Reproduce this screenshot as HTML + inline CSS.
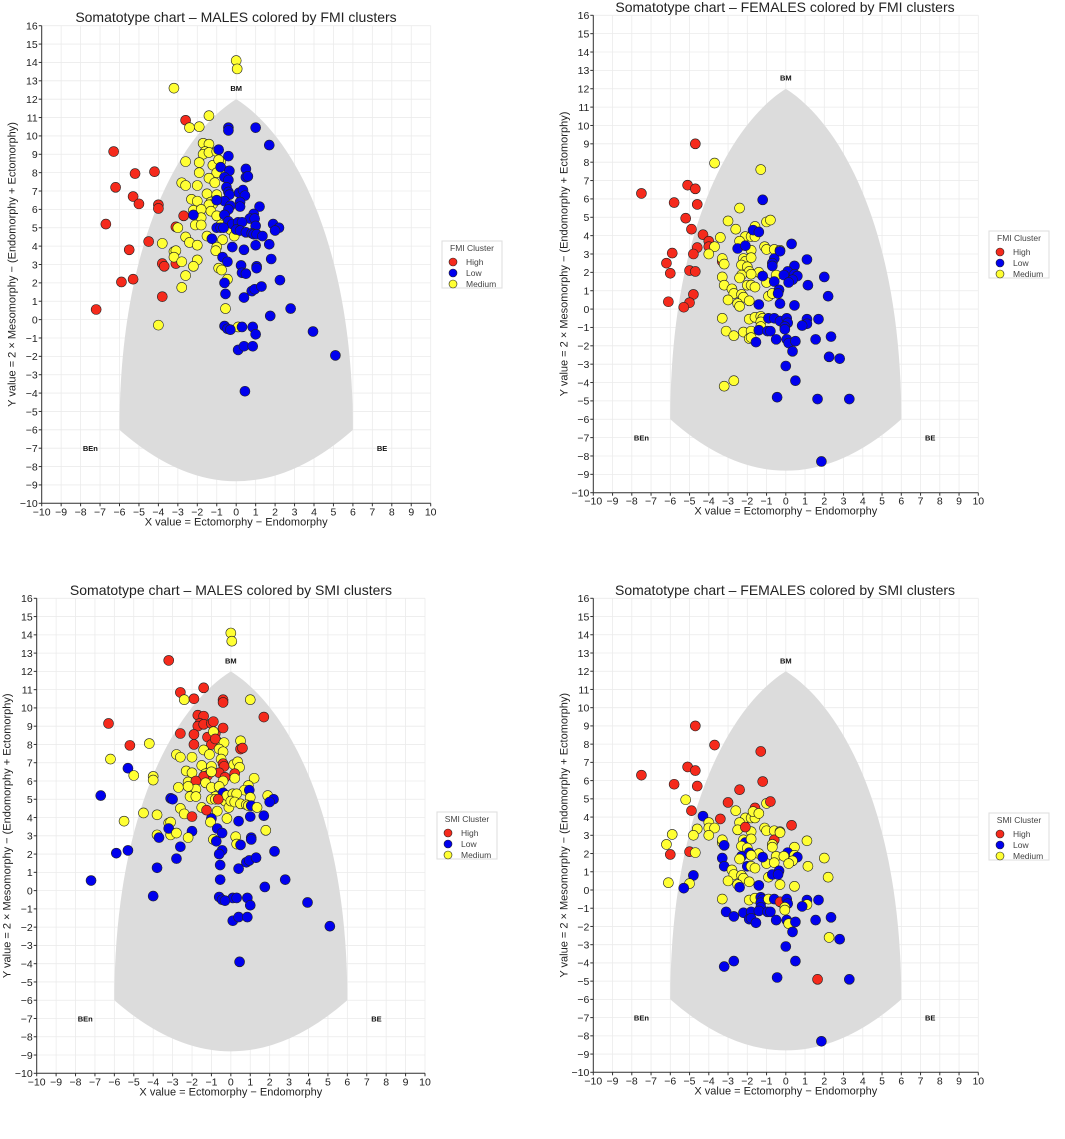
<!DOCTYPE html>
<html><head><meta charset="utf-8"><style>
body{margin:0;background:#fff;}
svg{display:block;font-family:"Liberation Sans","DejaVu Sans",sans-serif;}
</style></head><body>
<svg id="root" width="1065" height="1139" viewBox="0 0 1065 1139" xmlns="http://www.w3.org/2000/svg"></svg>
<script>
// Tick values
const xTicks=[-10,-9,-8,-7,-6,-5,-4,-3,-2,-1,0,1,2,3,4,5,6,7,8,9,10];
const yTicks=[-10,-9,-8,-7,-6,-5,-4,-3,-2,-1,0,1,2,3,4,5,6,7,8,9,10,11,12,13,14,15,16];
const clusterNames=["High","Low","Medium"];
// Males: x values, y values, FMI cluster, SMI cluster
const maleX=[-7.2,-6.7,-6.3,-6.2,-5.9,-5.5,-5.3,-5.3,-5.2,-5.0,-4.5,-4.2,-4.0,-4.0,-3.8,-3.7,-3.8,-3.1,-3.1,-2.7,-2.6,
0,0.05,-3.2,-1.4,-2.4,-1.9,-1.7,-1.4,-1.6,-1.7,-1.4,-1.0,-2.6,-1.9,-1.2,-0.8,-0.7,-1.0,-1.9,-0.9,-2.8,-2.6,-2.0,-1.4,-1.1,-1.5,-1.0,-2.3,-2.0,-1.3,-1.2,-1.4,-2.2,-1.8,-1.3,-1.0,-0.6,-1.8,-2.1,-1.8,-0.8,-3.0,-0.3,-0.1,-1.5,-2.6,-0.7,-2.4,-3.8,-2.0,-1.0,-1.05,-3.2,-3.1,-3.2,-2.8,-2.0,-2.2,-0.9,-0.75,-0.45,-2.6,-2.8,-0.55,-4.0,0.1,
-0.4,-0.4,1.0,1.7,-0.9,-0.4,-0.8,-0.35,0.5,-0.6,-0.4,0.5,0.6,-0.5,-0.4,-0.35,0.15,0.35,0.45,-0.6,0.2,0.2,1.2,-0.3,-0.4,-1.0,-2.2,0.9,0.7,0.95,-0.6,-0.4,-0.2,0.1,0.3,1.0,1.9,2.2,2.0,-1.0,-0.8,-0.65,0,0.2,0.5,0.8,0.9,1.05,1.35,-1.25,-0.2,0.4,1.0,1.7,-0.7,-0.45,1.8,0.25,1.05,1.05,0.3,0.5,-0.6,2.25,0.8,0.95,1.3,-0.55,0.4,2.8,1.75,-0.6,-0.45,-0.3,0.3,0.85,1.0,3.95,0.1,0.4,0.85,5.1,0.45];
const maleY=[0.55,5.2,9.15,7.2,2.05,3.8,2.2,6.7,7.95,6.3,4.25,8.05,6.25,6.05,3.05,2.9,1.25,5.05,3.05,5.65,10.85,
14.1,13.65,12.6,11.1,10.45,10.5,9.6,9.55,9.15,9.0,9.1,9.15,8.6,8.55,8.4,8.6,8.15,8.0,8.0,8.7,7.45,7.3,7.3,7.7,7.45,6.85,6.8,6.55,6.45,6.4,6.3,6.25,5.95,6.0,5.9,5.65,5.7,5.55,5.15,5.15,5.15,5.0,4.9,4.55,4.55,4.5,4.35,4.2,4.15,4.05,3.95,3.75,3.7,3.75,3.4,3.15,3.25,2.9,2.8,2.7,2.2,2.4,1.75,0.6,-0.3,-0.4,
10.45,10.3,10.45,9.5,9.25,8.9,8.3,8.1,8.2,7.75,7.6,7.75,7.8,7.2,6.95,6.8,6.9,7.05,6.75,6.45,6.4,6.15,6.15,6.2,6.0,6.5,5.7,5.75,5.5,5.5,5.7,5.35,5.2,5.3,5.3,5.1,5.2,5.0,4.85,5.0,5.0,5.0,4.9,4.85,4.75,4.7,4.65,4.65,4.55,4.4,3.95,3.8,4.05,4.1,3.4,3.15,3.3,2.95,2.9,2.8,2.55,2.5,2.0,2.15,1.55,1.65,1.8,1.4,1.2,0.6,0.2,-0.35,-0.5,-0.55,-0.4,-0.4,-0.8,-0.65,-1.65,-1.45,-1.45,-1.95,-3.9];
const maleFMI=("HHHHHHHHHHHHHHHHHHHHH"+"MMMMMMMMMMMMMMMMMMMMMMMMMMMMMMMMMMMMMMMMMMMMMMMMMMMMMMMMMMMMMMMMMM"+"LLLLLLLLLLLLLLLLLLLLLLLLLLLLLLLLLLLLLLLLLLLLLLLLLLLLLLLLLLLLLLLLLLLLLLLLLLLLLLLLLLL").split("");
const maleSMI=("LLHMLMLLHMMMMMMLLLMMH"+"MMHHMHHHHHHHHHHHMHHMMMMMMMMMMMHHMHMMMMMMMLMMMMMMMHLMMMLMLMMLLLLLLL"+"HHMHHHHMMMMHHMHHMMMHHMMHMMMMMLMLMMMMMLLMMHMMMMMLMHMLLLLLMMLLMLLLLLLLLLLLLLLLLLLLLLL").split("");
// Females
const femX=[-7.5,-5.8,-5.1,-4.7,-4.7,-4.6,-5.2,-4.9,-4.3,-4.0,-4.6,-4.8,-5.9,-6.2,-6.0,-5.0,-4.7,-4.8,-6.1,-5.0,-5.3,-4.0,-3.3,
-3.7,-1.3,-2.4,-3.0,-2.6,-1.0,-0.8,-1.6,-3.4,-2.1,-1.8,-1.6,-2.4,-1.1,-1.0,-0.6,-0.3,-3.7,-4.0,-1.8,-3.3,-3.2,-2.2,-2.1,-1.8,-2.3,-2.0,-1.9,-1.4,-2.3,-2.4,-1.8,-0.5,-1.0,-3.3,-3.2,-2.8,-2.7,-2.0,-1.8,-1.6,-0.9,-0.7,-2.3,-2.2,-3.0,-2.5,-2.4,-1.9,-3.3,-1.9,-1.6,-1.3,-1.2,-1.3,-1.3,-3.1,-2.7,-2.2,-1.8,-1.9,-1.8,-3.2,-2.7,
-1.2,-1.7,-1.4,-2.5,-2.1,0.3,-0.6,-0.7,-0.7,-0.3,1.1,0.45,0.1,-0.1,0.45,0.6,0.35,0.15,-0.6,-1.2,1.15,2.0,-0.35,-0.4,2.2,-1.4,-0.3,0.45,-0.9,-0.6,-0.3,0.05,0.1,-0.05,-0.05,1.1,1.1,0.85,1.7,-1.4,-0.95,-0.8,-0.5,0.05,0.15,0.5,1.55,2.35,-1.55,0.35,2.25,2.8,0.0,0.5,-0.45,1.65,3.3,1.85];
const femY=[6.3,5.8,6.75,6.55,9.0,5.7,4.95,4.35,4.05,3.7,3.35,3.0,3.05,2.5,1.95,2.1,2.05,0.8,0.4,0.35,0.1,3.4,2.6,
7.95,7.6,5.5,4.8,4.35,4.75,4.85,4.5,3.9,3.95,3.95,3.95,3.7,3.4,3.25,3.25,3.2,3.4,3.0,3.2,2.75,2.45,2.75,2.6,2.8,2.4,2.3,2.05,2.0,1.85,1.7,1.9,1.85,1.45,1.75,1.3,1.1,0.85,1.3,1.3,1.2,0.7,0.85,0.8,0.65,0.5,0.3,0.15,0.45,-0.5,-0.55,-0.45,-0.4,-0.5,-0.7,-0.95,-1.2,-1.45,-1.25,-1.2,-1.6,-1.55,-4.2,-3.9,
5.95,4.3,4.2,3.3,3.45,3.55,2.75,2.5,2.35,3.15,2.7,2.35,2.05,1.85,1.9,1.8,1.6,1.45,1.5,1.8,1.3,1.75,1.05,0.85,0.7,0.25,0.3,0.2,-0.5,-0.5,-0.65,-0.5,-0.75,-0.95,-1.1,-0.55,-0.8,-0.9,-0.55,-1.15,-1.2,-1.2,-1.65,-1.65,-1.85,-1.75,-1.65,-1.5,-1.8,-2.3,-2.6,-2.7,-3.1,-3.9,-4.8,-4.9,-4.9,-8.3];
const femFMI=("HHHHHHHHHHHHHHHHHHHHHHH"+"MMMMMMMMMMMMMMMMMMMMMMMMMMMMMMMMMMMMMMMMMMMMMMMMMMMMMMMMMMMMMMMM"+"LLLLLLLLLLLLLLLLLLLLLLLLLLLLLLLLLLLLLLLLLLLLLLLLLLLLLLLLLL").split("");
const femSMI=("HHHHHHMHLMMMMMHHMLMMLMM"+"HHHHMMHHHMMMMMMMMMMMMLMLMMMLMLMMMMLLMMLMMMLMMMMLMMMMLLLLLLLLLLLL"+"HMMMHHHMMMMMLMMLMMMLMMLLMLMMMLHLLMMLMLLLLLLLMLLLLLMLLLLHLL").split("");

const NS="http://www.w3.org/2000/svg";
const root=document.getElementById('root');
const COL={H:"#f52a1c",L:"#0000ee",M:"#ffff33"};
function mk(tag,attrs,parent){const e=document.createElementNS(NS,tag);for(const k in attrs)e.setAttribute(k,attrs[k]);(parent||root).appendChild(e);return e;}
function fmt(v){return v<0?"\u2212"+Math.abs(v):String(v);}

function panel(id,g,xs,ys,cl,title,legTitle,leg){
  const grp=mk('g',{});
  
  
  const sx=v=>g.x0+(v+10)/20*(g.x1-g.x0);
  const sy=v=>g.yb-(v+10)/26*(g.yb-g.yt);
  xTicks.forEach(t=>{const l=mk('line',{x1:sx(t),x2:sx(t),y1:g.yt,y2:g.yb,stroke:"#ebebeb","stroke-width":0.8},grp);
    });
  yTicks.forEach(t=>{const l=mk('line',{x1:g.x0,x2:g.x1,y1:sy(t),y2:sy(t),stroke:"#ebebeb","stroke-width":0.8},grp);
    });
  const d=`M${sx(-6)},${sy(-6)} C${sx(-6)},${sy(4)} ${sx(-3)},${sy(10)} ${sx(0)},${sy(12)} C${sx(3)},${sy(10)} ${sx(6)},${sy(4)} ${sx(6)},${sy(-6)} Q${sx(0)},${sy(-11.6)} ${sx(-6)},${sy(-6)} Z`;
  const reg=mk('path',{d:d,fill:"#dcdcdc"},grp);
  
  [["BM",0,12.6],["BEn",-7.5,-7],["BE",7.5,-7]].forEach(a=>{const t=mk('text',{x:sx(a[1]),y:sy(a[2])+3,"text-anchor":"middle","font-size":7.5,"font-weight":"bold",fill:"#111"},grp);t.textContent=a[0];
    });
  for(let i=0;i<xs.length;i++){
    const k=cl[i]||'L';
    const c=mk('circle',{cx:sx(xs[i]),cy:sy(ys[i]),r:5,fill:COL[k],stroke:"#222","stroke-width":0.6},grp);
    
    
  }
  const ax=mk('line',{x1:g.x0,x2:g.x1,y1:g.yb,y2:g.yb,stroke:"#333","stroke-width":1},grp);
  
  const ay=mk('line',{x1:g.x0,x2:g.x0,y1:g.yt,y2:g.yb,stroke:"#333","stroke-width":1},grp);
  
  xTicks.forEach(t=>{mk('line',{x1:sx(t),x2:sx(t),y1:g.yb,y2:g.yb+3,stroke:"#333"},grp);
    const tx=mk('text',{x:sx(t),y:g.yb+12,"text-anchor":"middle","font-size":10.5,fill:"#222"},grp);tx.textContent=fmt(t);
    });
  yTicks.forEach(t=>{mk('line',{x1:g.x0-3,x2:g.x0,y1:sy(t),y2:sy(t),stroke:"#333"},grp);
    const tx=mk('text',{x:g.x0-4,y:sy(t)+3.8,"text-anchor":"end","font-size":10.5,fill:"#222"},grp);tx.textContent=fmt(t);
    });
  const xl=mk('text',{x:(g.x0+g.x1)/2,y:g.yb+22,"text-anchor":"middle","font-size":11,fill:"#222"},grp);
  xl.textContent="X value = Ectomorphy \u2212 Endomorphy";
  
  const ymid=(g.yt+g.yb)/2;
  const yl=mk('text',{x:g.x0-26,y:ymid,"text-anchor":"middle","font-size":11,fill:"#222",transform:`rotate(-90 ${g.x0-26} ${ymid})`},grp);
  yl.textContent="Y value = 2 \u00d7 Mesomorphy \u2212 (Endomorphy + Ectomorphy)";
  
  const ti=mk('text',{x:g.tx,y:g.ty,"text-anchor":"middle","font-size":14,fill:"#222"},grp);ti.textContent=title;
  
  const lg=mk('g',{},grp);
  
  mk('rect',{x:leg[0],y:leg[1],width:60,height:47,fill:"#fff",stroke:"#ddd","stroke-width":1},lg);
  const lt=mk('text',{x:leg[0]+30,y:leg[1]+10,"text-anchor":"middle","font-size":8.5,fill:"#444"},lg);lt.textContent=legTitle;
  
  clusterNames.forEach((n,k)=>{const yy=leg[1]+21+k*11;
    mk('circle',{cx:leg[0]+11,cy:yy,r:4,fill:COL[n[0]],stroke:"#222","stroke-width":0.6},lg);
    const et=mk('text',{x:leg[0]+24,y:yy+3,"font-size":8.5,fill:"#444"},lg);et.textContent=n;
    });
}
panel('panel-males-fmi',{x0:41.7,x1:430.7,yt:25.7,yb:503.3,tx:236,ty:22},maleX,maleY,maleFMI,"Somatotype chart \u2013 MALES colored by FMI clusters","FMI Cluster",[442,241]);
panel('panel-females-fmi',{x0:593.3,x1:978.3,yt:15.3,yb:492.7,tx:785,ty:12},femX,femY,femFMI,"Somatotype chart \u2013 FEMALES colored by FMI clusters","FMI Cluster",[989,231]);
panel('panel-males-smi',{x0:36.7,x1:425,yt:598.3,yb:1073.3,tx:231,ty:595},maleX,maleY,maleSMI,"Somatotype chart \u2013 MALES colored by SMI clusters","SMI Cluster",[437,812]);
panel('panel-females-smi',{x0:593.3,x1:978.3,yt:598.3,yb:1072.3,tx:785,ty:595},femX,femY,femSMI,"Somatotype chart \u2013 FEMALES colored by SMI clusters","SMI Cluster",[989,813]);
</script>
</body></html>
